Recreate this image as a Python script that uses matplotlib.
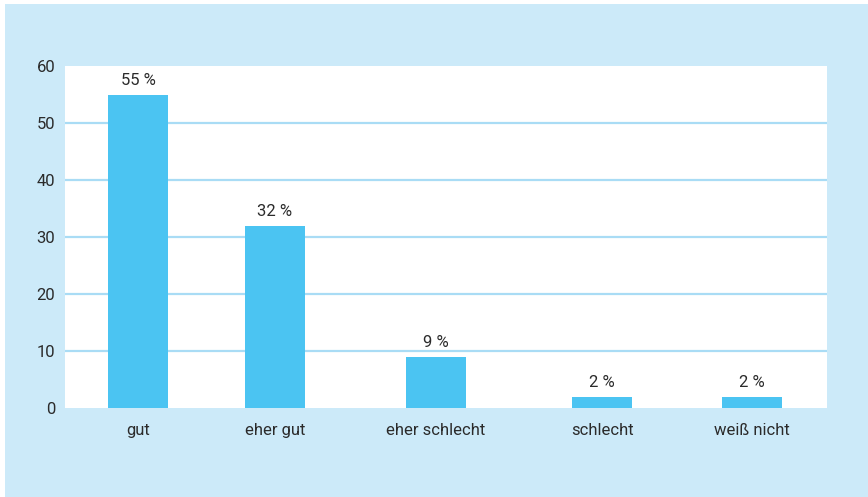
import matplotlib
matplotlib.use('Agg')
import matplotlib.pyplot as plt
from matplotlib.patches import Rectangle
from matplotlib import font_manager

categories = ['gut', 'eher gut', 'eher schlecht', 'schlecht', 'weiß nicht']
values = [55, 32, 9, 2, 2]
value_labels = ['55 %', '32 %', '9 %', '2 %', '2 %']
y_ticks = [0, 10, 20, 30, 40, 50, 60]

# bar centres measured in pixels from the left edge of the plot area
positions = [73, 210, 371, 537, 687]
bar_width = 60

names = {f.name for f in font_manager.fontManager.ttflist}
font = 'Liberation Sans Narrow' if 'Liberation Sans Narrow' in names else 'Roboto'
plt.rcParams['font.family'] = [font, 'DejaVu Sans']

bg = '#cceaf9'
bar_color = '#4bc4f2'
grid_color = '#a9dcf5'
text_color = '#2b2b2b'
fs = 12

W, H = 868, 497
fig = plt.figure(figsize=(W / 100, H / 100), dpi=100, facecolor='white')
fig.add_artist(Rectangle((5 / W, 0), 1, 1 - 4 / H, transform=fig.transFigure,
                         facecolor=bg, edgecolor='none', zorder=-10))

left, right, top, bottom = 65, 827, 66, 408
ax = fig.add_axes([left / W, 1 - bottom / H, (right - left) / W, (bottom - top) / H])
ax.set_facecolor('white')
ax.set_zorder(1)

ax.bar(positions, values, width=bar_width, color=bar_color, zorder=3)
for x, v, lab in zip(positions, values, value_labels):
    ax.text(x, v + 1.2, lab, ha='center', va='bottom', fontsize=fs, color=text_color)

ax.set_xlim(0, right - left)
ax.set_ylim(0, 60)
ax.set_yticks(y_ticks)
ax.set_yticklabels([str(t) for t in y_ticks])
ax.set_xticks(positions)
ax.set_xticklabels(categories)
ax.tick_params(axis='both', length=0, labelsize=fs, labelcolor=text_color)
ax.tick_params(axis='x', pad=11)
ax.tick_params(axis='y', pad=7)

for t in y_ticks[1:-1]:
    ax.axhline(t, color=grid_color, linewidth=1.6, zorder=1)

for s in ax.spines.values():
    s.set_visible(False)

fig.savefig('out.png', dpi=100, facecolor='white')
